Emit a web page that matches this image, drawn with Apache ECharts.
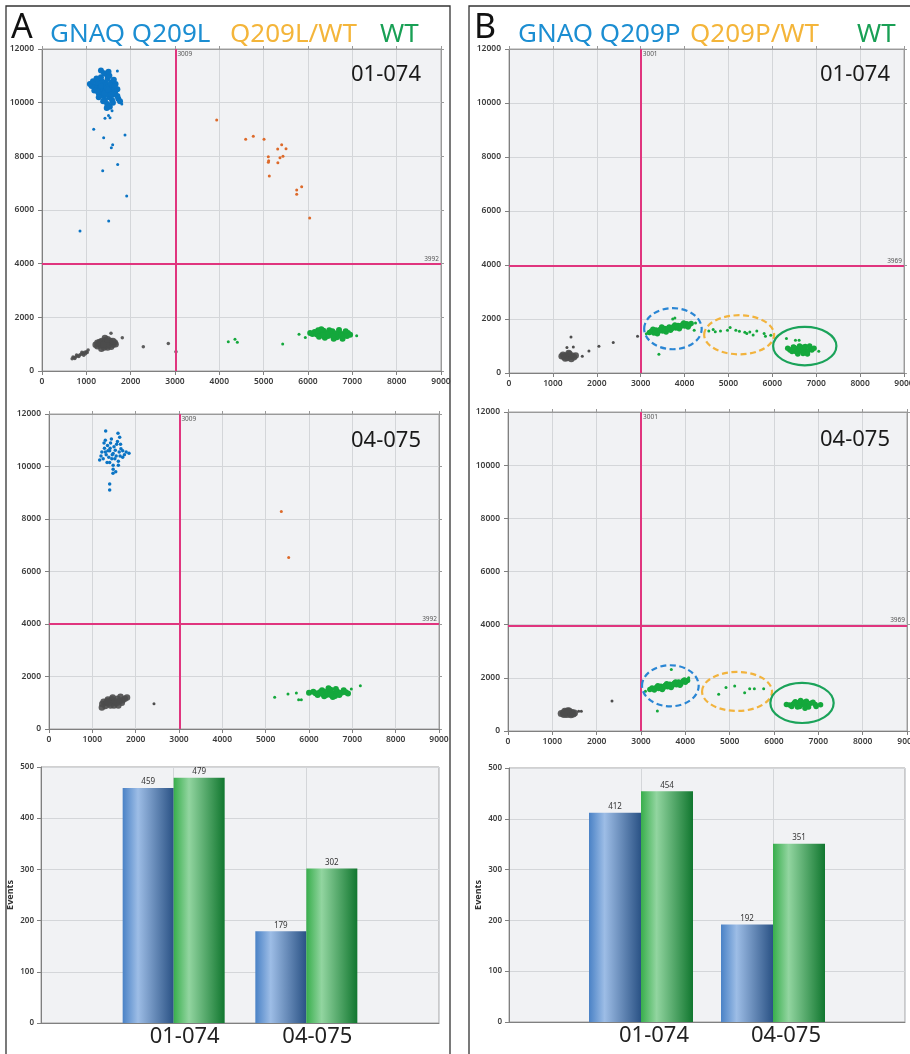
<!DOCTYPE html>
<html>
<head>
<meta charset="utf-8">
<script src="https://cdn.jsdelivr.net/npm/echarts@6/dist/echarts.min.js"></script>
<style>
  html, body { margin: 0; padding: 0; background: #fff; }
  #c { width: 910px; height: 1054px; }
</style>
</head>
<body>
<div id="c"></div>
<script>
// ---------- data ----------
const titleA = ['GNAQ Q209L', 'Q209L/WT', 'WT'];
const titleB = ['GNAQ Q209P', 'Q209P/WT', 'WT'];
const samples = ['01-074', '04-075'];

const xRange = [0, 9000];
const yRange = [0, 12000];
const eventRange = [0, 500];

// threshold gates [FAM, HEX]
const gateA = [3009, 3992];
const gateB = [3001, 3969];

// event counts (mutant, wild type) per sample
const barsAMut = [459, 179];
const barsAWt = [479, 302];
const barsBMut = [412, 192];
const barsBWt = [454, 351];

// droplets, panel A, sample 01-074 (dense populations and scattered droplets)
const a1BlueCore = [
  [1420,10480],[1380,10550],[1460,10420],[1350,10380],[1500,10600],[1300,10650],[1550,10450],[1250,10500],
  [1600,10300],[1440,10750],[1380,10250],[1520,10200],[1280,10350],[1620,10550],[1350,10800],[1480,10900],
  [1200,10600],[1560,10750],[1420,10100],[1650,10400],[1180,10450],[1330,10950],[1460,11050],[1580,10100],
  [1700,10250],[1240,10750],[1400,10650],[1500,10350],[1320,10500],[1440,10300],[1540,10650],[1280,10200],
  [1600,10000],[1470,9950],[1530,9850],[1380,10050],[1720,10150],[1760,10050],[1120,10620],
  [1080,10700],[1150,10800],[1230,10900],[1400,11100],[1520,11000],[1620,10850],[1660,10700],[1700,10500],
  [1360,10400],[1460,10560],[1410,10350],[1490,10480],[1330,10620],[1560,10300],[1260,10420],[1640,10620],
  [1500,11150],[1330,11200],[1460,9800]
];
const a1BlueStray = [
  [1800,9950],[1700,11180],[857,5217],[1504,5590],[1910,6520],[1707,7700],[1369,7465],[1564,8322],[1594,8430],
  [1391,8695],[1872,8795],[1166,9005],[1421,9415],[1534,9440],[1500,9520],[1580,9700]
];
const a1Orange = [
  [3940,9354],[4594,8633],[4766,8745],[5008,8633],[5105,7986],[5113,7837],[5106,7780],[5127,7267],
  [5316,8273],[5406,8434],[5504,8285],[5368,7949],[5436,8004],[5320,7763],[5745,6745],[5745,6590],
  [5857,6869],[6038,5702]
];
const a1GrayCore = [
  [1440,1000],[1380,1050],[1500,960],[1330,950],[1560,1040],[1280,1010],[1420,1150],[1480,880],
  [1350,1120],[1600,980],[1250,920],[1530,1130],[1400,880],[1460,1080],[1300,1080],[1640,1060],
  [1210,980],[1370,960],[1510,1020],[1420,1230],[1560,900],[1340,830],[1660,1000],[1450,940],
  [1390,1000],[1480,1180],[1250,1050],[1600,1120]
];
const a1GrayStray = [
  [1040,780],[1000,720],[960,700],[920,650],[880,620],[850,600],[800,560],[760,520],[720,490],[680,460],
  [700,520],[780,600],[900,700],[980,640],[1020,690],[830,540],[740,470],[940,590],
  [1556,1405],[1811,1241],[2285,906],[2849,1028],[3022,720]
];
const a1GreenCore = [
  [6500,1380],[6400,1420],[6600,1350],[6300,1400],[6700,1430],[6200,1360],[6800,1380],[6450,1300],
  [6550,1480],[6350,1500],[6650,1260],[6150,1450],[6750,1300],[6900,1420],[6250,1280],[6480,1520],
  [6580,1200],[6380,1240],[6850,1480],[6100,1380],[6700,1530],[6950,1350],[6300,1560],[6520,1440],
  [6420,1360],[6620,1400],[6780,1200],[6050,1420],[6230,1520],[6880,1300],[6560,1300],[6340,1340]
];
const a1GreenStray = [[4202,1093],[4353,1180],[4406,1068],[5429,1006],[5797,1366],[5940,1250],[7098,1316]];

// droplets, panel A, sample 04-075
const a2Blue = [
  [1480,10500],[1400,10600],[1550,10400],[1320,10450],[1620,10550],[1280,10700],[1450,10300],[1700,10350],
  [1350,10800],[1500,10750],[1600,10200],[1250,10300],[1420,10900],[1660,10680],[1380,10350],[1530,10620],
  [1300,10550],[1460,10450],[1740,10450],[1560,10850],[1340,10150],[1480,10050],[1600,10050],[1220,10550],
  [1410,10700],[1700,10600],[1270,10900],[1520,10300],[1640,10400],[1360,10600],[1440,11050],[1580,10950],
  [1300,11000],[1480,9900],[1400,10150],[1650,10850],[1200,10400],[1780,10550],
  [1400,9336],[1400,9108],[1308,11353],[1592,11264],[1631,11112],[1846,10503],[1477,9742],[1169,10250],[1540,9800]
];
const a2Orange = [[5361,8283],[5531,6533]];
const a2GrayCore = [
  [1480,1010],[1400,1050],[1550,980],[1320,990],[1620,1060],[1260,1040],[1450,1130],[1500,900],
  [1360,1120],[1680,1000],[1230,950],[1580,1150],[1420,900],[1700,1100],[1300,880],[1750,1150],
  [1800,1200],[1520,1060],[1380,970],[1650,1230],[1220,820],[1470,1200],[1600,900],[1340,1060]
];
const a2GrayStray = [[2423,964]];
const a2GreenCore = [
  [6450,1380],[6350,1420],[6550,1350],[6250,1400],[6650,1430],[6150,1360],[6750,1380],[6400,1300],
  [6500,1500],[6300,1480],[6600,1260],[6100,1420],[6700,1300],[6850,1400],[6200,1300],[6450,1550],
  [6550,1220],[6350,1250],[6800,1480],[6900,1350],[6620,1520],[6000,1380],[6500,1300],[6300,1340]
];
const a2GreenStray = [[5208,1205],[5515,1332],[5708,1370],[5761,1116],[5823,1116],[6977,1522],[7185,1649],[6015,1370]];

// droplets, panel B, sample 01-074
const b1GrayCore = [
  [1350,620],[1300,650],[1400,600],[1250,600],[1450,640],[1200,620],[1330,560],[1380,700],[1280,540],
  [1420,520],[1480,580],[1230,680],[1360,740],[1520,650]
];
const b1GrayStray = [[1412,1336],[1320,940],[1465,965],[1670,619],[1821,816],[2049,990],[2375,1126],[2929,1361]];
const b1GreenCore = [
  [3200,1500],[3250,1560],[3300,1480],[3350,1590],[3400,1530],[3450,1620],[3500,1560],[3550,1650],
  [3600,1600],[3650,1700],[3700,1630],[3750,1720],[3800,1670],[3850,1760],[3900,1700],[3950,1790],
  [4000,1740],[4050,1820],[4100,1770],[4150,1830],[3280,1620],[3380,1450],[3480,1700],[3580,1520],
  [3680,1580],[3780,1780],[3880,1640],[3980,1850],[3530,1600],[3630,1660],[3430,1580],[3730,1680],
  [3830,1710],[3330,1540],[3920,1760],[4080,1700],
  [6660,870],[6560,900],[6760,840],[6460,880],[6860,900],[6400,850],[6600,800],[6700,950],[6500,940],
  [6800,780],[6900,850],[6550,780],[6750,980],[6450,800],[6950,920],[6620,1000],[6350,920],[6850,1000],
  [6700,720],[6580,700],[6800,700],[6480,960]
];
const b1GreenStray = [
  [3415,693],[3779,2041],[3730,2000],[4250,1856],[4220,1583],[3130,1450],
  [4553,1559],[4652,1608],[4819,1559],[4978,1583],[5039,1682],[5168,1583],[5373,1509],[5418,1460],
  [5487,1521],[5563,1410],[5646,1559],[5813,1460],[5843,1361],[5965,1398],[4700,1530],[5250,1550],
  [6322,1274],[6527,1212],[6610,1212],[7058,804]
];

// droplets, panel B, sample 04-075
const b2GrayCore = [
  [1350,680],[1300,700],[1400,660],[1250,680],[1450,700],[1200,660],[1330,620],[1380,750],[1280,740],
  [1420,610],[1500,680],[1350,760],[1260,620],[1470,640]
];
const b2GrayStray = [[1594,740],[1654,740],[2346,1130]];
const b2GreenCore = [
  [3200,1560],[3250,1620],[3300,1540],[3350,1650],[3400,1600],[3450,1680],[3500,1620],[3550,1720],
  [3600,1660],[3650,1760],[3700,1700],[3750,1800],[3800,1740],[3850,1840],[3900,1780],[3950,1880],
  [4000,1830],[4050,1900],[3380,1700],[3480,1560],[3580,1780],[3680,1640],[3780,1840],[3880,1720],
  [3980,1920],[3530,1680],[3630,1700],[3730,1760],
  [6630,1000],[6530,1030],[6730,980],[6430,1010],[6830,1040],[6350,980],[6580,920],[6680,1080],
  [6480,1100],[6780,900],[6930,1000],[6530,900],[6730,1120],[6400,920],[7050,990],[6600,1150],
  [6280,1000],[6880,1080],[6700,860],[6560,1070],[6950,920],[6460,1050]
];
const b2GreenStray = [
  [3100,1500],[3369,753],[3684,2310],[4075,2000],
  [4752,1381],[4917,1632],[5113,1695],[5338,1443],[5451,1594],[5557,1594],[5767,1594]
];

// ---------- styling ----------
const FONT = '"Noto Sans", "Open Sans", sans-serif';
const C = {
  blue: '#0b74c4', orange: '#dd6a2a', green: '#14a83c', gray: '#4d4d4d',
  gate: '#e0357e', plotBg: '#f1f2f4', split: '#d4d6d9', axis: '#808080',
  titleBlue: '#1c8ed2', titleOrange: '#f4b53a', titleGreen: '#19a055'
};
const plain = function (v) { return String(v); };
const tickLabel = { fontFamily: FONT, fontSize: 8.5, fontWeight: 600, color: '#3c3c3c', formatter: plain };

const grids = [], xAxes = [], yAxes = [], series = [];

function addGrid(box) {
  grids.push({
    left: box[0], top: box[1], width: box[2], height: box[3],
    show: true, backgroundColor: C.plotBg, borderColor: '#a3a3a3', borderWidth: 1,
    outerBoundsMode: 'none', containLabel: false
  });
  return grids.length - 1;
}

function addScatterPanel(box, layers, gate) {
  const gi = addGrid(box);
  const xi = xAxes.length;
  xAxes.push({
    type: 'value', gridIndex: gi, position: 'bottom', min: xRange[0], max: xRange[1], interval: 1000,
    axisLine: { show: true, onZero: false, lineStyle: { color: C.axis } },
    axisTick: { show: true, length: 4, lineStyle: { color: C.axis } },
    axisLabel: Object.assign({ margin: 6, showMinLabel: true, showMaxLabel: true, hideOverlap: false }, tickLabel),
    splitLine: { show: true, lineStyle: { color: C.split, width: 1 } }
  });
  xAxes.push({
    type: 'value', gridIndex: gi, position: 'top', min: xRange[0], max: xRange[1], interval: 1000,
    axisLine: { show: true, onZero: false, lineStyle: { color: '#9a9a9a' } },
    axisTick: { show: true, length: 3, lineStyle: { color: '#9a9a9a' } },
    axisLabel: { show: false }, splitLine: { show: false }
  });
  const yi = yAxes.length;
  yAxes.push({
    type: 'value', gridIndex: gi, position: 'left', min: yRange[0], max: yRange[1], interval: 2000,
    axisLine: { show: true, onZero: false, lineStyle: { color: C.axis } },
    axisTick: { show: true, length: 4, lineStyle: { color: C.axis } },
    axisLabel: Object.assign({ margin: 8, showMinLabel: true, showMaxLabel: true }, tickLabel),
    splitLine: { show: true, lineStyle: { color: C.split, width: 1 } }
  });
  yAxes.push({
    type: 'value', gridIndex: gi, position: 'right', min: yRange[0], max: yRange[1], interval: 2000,
    axisLine: { show: true, onZero: false, lineStyle: { color: '#9a9a9a' } },
    axisTick: { show: true, length: 3, lineStyle: { color: '#9a9a9a' } },
    axisLabel: { show: false }, splitLine: { show: false }
  });

  layers.forEach(function (L, k) {
    const s = {
      type: 'scatter', xAxisIndex: xi, yAxisIndex: yi, data: L.data,
      symbol: 'circle', symbolSize: L.size, itemStyle: { color: L.color, opacity: L.opacity || 1 },
      silent: true, z: 3
    };
    if (k === 0) {
      s.markLine = {
        silent: true, symbol: 'none', animation: false,
        lineStyle: { color: C.gate, width: 2, type: 'solid' },
        label: { show: false },
        data: [{ xAxis: gate[0] }, { yAxis: gate[1] }]
      };
      s.markPoint = {
        silent: true, symbol: 'circle', symbolSize: 0, animation: false,
        itemStyle: { color: 'rgba(0,0,0,0)' },
        label: { show: true, formatter: function (p) { return String(p.value); },
                 fontFamily: FONT, fontSize: 6.5, color: '#555' },
        data: [
          { coord: [gate[0], yRange[1]], value: gate[0], label: { position: 'right', offset: [-3, 5] } },
          { coord: [xRange[1], gate[1]], value: gate[1], label: { position: 'left', offset: [3, -5] } }
        ]
      };
    }
    series.push(s);
  });
  return { xi: xi, yi: yi };
}

function barFill(stops) {
  return new echarts.graphic.LinearGradient(0, 0, 1, 0, stops);
}
const blueFill = barFill([
  { offset: 0, color: '#4a82c6' }, { offset: 0.3, color: '#9dbde6' }, { offset: 1, color: '#2a5285' }
]);
const greenFill = barFill([
  { offset: 0, color: '#38ae4c' }, { offset: 0.3, color: '#92d5a0' }, { offset: 1, color: '#11772f' }
]);

function addBarPanel(box, mut, wt, barW, padLeft) {
  const gi = addGrid(box);
  const xi = xAxes.length;
  xAxes.push({
    type: 'category', gridIndex: gi, position: 'bottom', boundaryGap: false,
    data: [''].concat(samples, ['']),
    axisLine: { show: true, onZero: false, lineStyle: { color: C.axis } },
    axisTick: { show: false },
    axisLabel: { interval: 0, fontFamily: FONT, fontSize: 22, color: '#222', margin: 3, padding: [0, 0, 0, padLeft] },
    splitLine: { show: true, interval: 0, lineStyle: { color: C.split, width: 1 } }
  });
  const yi = yAxes.length;
  yAxes.push({
    type: 'value', gridIndex: gi, position: 'left', min: eventRange[0], max: eventRange[1], interval: 100,
    name: 'Events', nameLocation: 'middle', nameGap: 26,
    nameTextStyle: { fontFamily: FONT, fontSize: 9, fontWeight: 'bold', color: '#333' },
    axisLine: { show: true, onZero: false, lineStyle: { color: C.axis } },
    axisTick: { show: true, length: 4, lineStyle: { color: C.axis } },
    axisLabel: Object.assign({ margin: 7 }, tickLabel, { fontSize: 8 }),
    splitLine: { show: true, lineStyle: { color: C.split, width: 1 } }
  });
  const pad = function (arr) { return ['-'].concat(arr, ['-']); };
  const lbl = { show: true, position: 'top', distance: 2, fontFamily: FONT, fontSize: 8, color: '#333' };
  series.push({
    type: 'bar', xAxisIndex: xi, yAxisIndex: yi, data: pad(mut), barWidth: barW, barGap: '0%',
    itemStyle: { color: blueFill }, label: lbl, silent: true
  });
  series.push({
    type: 'bar', xAxisIndex: xi, yAxisIndex: yi, data: pad(wt), barWidth: barW, barGap: '0%',
    itemStyle: { color: greenFill }, label: lbl, silent: true
  });
}

// ---------- panels ----------
const pA1 = addScatterPanel([42, 49, 399, 322], [
  { data: a1GrayCore, color: C.gray, size: 6.5, opacity: 0.9 },
  { data: a1GrayStray, color: C.gray, size: 3.5, opacity: 0.9 },
  { data: a1BlueCore, color: C.blue, size: 6 },
  { data: a1BlueStray, color: C.blue, size: 3 },
  { data: a1Orange, color: C.orange, size: 3 },
  { data: a1GreenCore, color: C.green, size: 6 },
  { data: a1GreenStray, color: C.green, size: 3 }
], gateA);
const pA2 = addScatterPanel([49, 414, 390, 315], [
  { data: a2GrayCore, color: C.gray, size: 6.5, opacity: 0.9 },
  { data: a2GrayStray, color: C.gray, size: 3 },
  { data: a2Blue, color: C.blue, size: 3.5 },
  { data: a2Orange, color: C.orange, size: 3 },
  { data: a2GreenCore, color: C.green, size: 6 },
  { data: a2GreenStray, color: C.green, size: 3 }
], gateA);
addBarPanel([41, 767, 398, 256], barsAMut, barsAWt, 51, 22);

const pB1 = addScatterPanel([509, 49, 395, 324], [
  { data: b1GrayCore, color: C.gray, size: 6.5, opacity: 0.9 },
  { data: b1GrayStray, color: C.gray, size: 3 },
  { data: b1GreenCore, color: C.green, size: 5.5 },
  { data: b1GreenStray, color: C.green, size: 3 }
], gateB);
const pB2 = addScatterPanel([508, 412, 399, 319], [
  { data: b2GrayCore, color: C.gray, size: 7, opacity: 0.9 },
  { data: b2GrayStray, color: C.gray, size: 3 },
  { data: b2GreenCore, color: C.green, size: 5.5 },
  { data: b2GreenStray, color: C.green, size: 3 }
], gateB);
addBarPanel([509, 768, 396, 254], barsBMut, barsBWt, 52, 26);

// ---------- frame, headings and sample names ----------
function txt(text, x, y, size, color, align) {
  return {
    type: 'text', silent: true, z: 10,
    style: { text: text, x: x, y: y, font: 'normal ' + size + 'px ' + FONT, fill: color,
             textAlign: align || 'left', textVerticalAlign: 'middle' }
  };
}
const staticGraphics = [
  { type: 'rect', silent: true, z: 0, shape: { x: 6, y: 6, width: 444, height: 1060 },
    style: { fill: 'none', stroke: '#333', lineWidth: 1.3 } },
  { type: 'rect', silent: true, z: 0, shape: { x: 469, y: 6, width: 460, height: 1060 },
    style: { fill: 'none', stroke: '#333', lineWidth: 1.3 } },
  txt('A', 11, 28, 34, '#111'),
  txt(titleA[0], 50, 35, 26, C.titleBlue),
  txt(titleA[1], 230, 35, 26, C.titleOrange),
  txt(titleA[2], 380, 35, 26, C.titleGreen),
  txt('B', 474, 28, 34, '#111'),
  txt(titleB[0], 518, 35, 26, C.titleBlue),
  txt(titleB[1], 690, 35, 26, C.titleOrange),
  txt(titleB[2], 857, 35, 26, C.titleGreen),
  txt(samples[0], 421, 75, 22, '#1a1a1a', 'right'),
  txt(samples[1], 421, 441, 22, '#1a1a1a', 'right'),
  txt(samples[0], 890, 75, 22, '#1a1a1a', 'right'),
  txt(samples[1], 890, 440, 22, '#1a1a1a', 'right')
];

const chart = echarts.init(document.getElementById('c'));
chart.setOption({
  animation: false,
  backgroundColor: '#ffffff',
  grid: grids, xAxis: xAxes, yAxis: yAxes, series: series,
  graphic: staticGraphics
});

// cluster rings around the droplet populations (centre and radii in assay units)
const rings = [
  { p: pB1, c: [3735, 1640], r: [655, 760], color: '#2a86d4', dash: true },
  { p: pB1, c: [5244, 1416], r: [797, 724], color: '#f2b33d', dash: true },
  { p: pB1, c: [6739, 996], r: [721, 711], color: '#1ba35a', dash: false },
  { p: pB2, c: [3662, 1701], r: [639, 772], color: '#2a86d4', dash: true },
  { p: pB2, c: [5166, 1487], r: [789, 734], color: '#f2b33d', dash: true },
  { p: pB2, c: [6632, 1054], r: [714, 753], color: '#1ba35a', dash: false }
];
const ringGraphics = rings.map(function (g) {
  const finder = { xAxisIndex: g.p.xi, yAxisIndex: g.p.yi };
  const ctr = chart.convertToPixel(finder, g.c);
  const edge = chart.convertToPixel(finder, [g.c[0] + g.r[0], g.c[1] + g.r[1]]);
  return {
    type: 'ellipse', silent: true, z: 8,
    shape: { cx: ctr[0], cy: ctr[1], rx: Math.abs(edge[0] - ctr[0]), ry: Math.abs(edge[1] - ctr[1]) },
    style: { fill: 'none', stroke: g.color, lineWidth: 2.2, lineDash: g.dash ? [6, 3.5] : null }
  };
});
chart.setOption({ graphic: staticGraphics.concat(ringGraphics) });
</script>
</body>
</html>
